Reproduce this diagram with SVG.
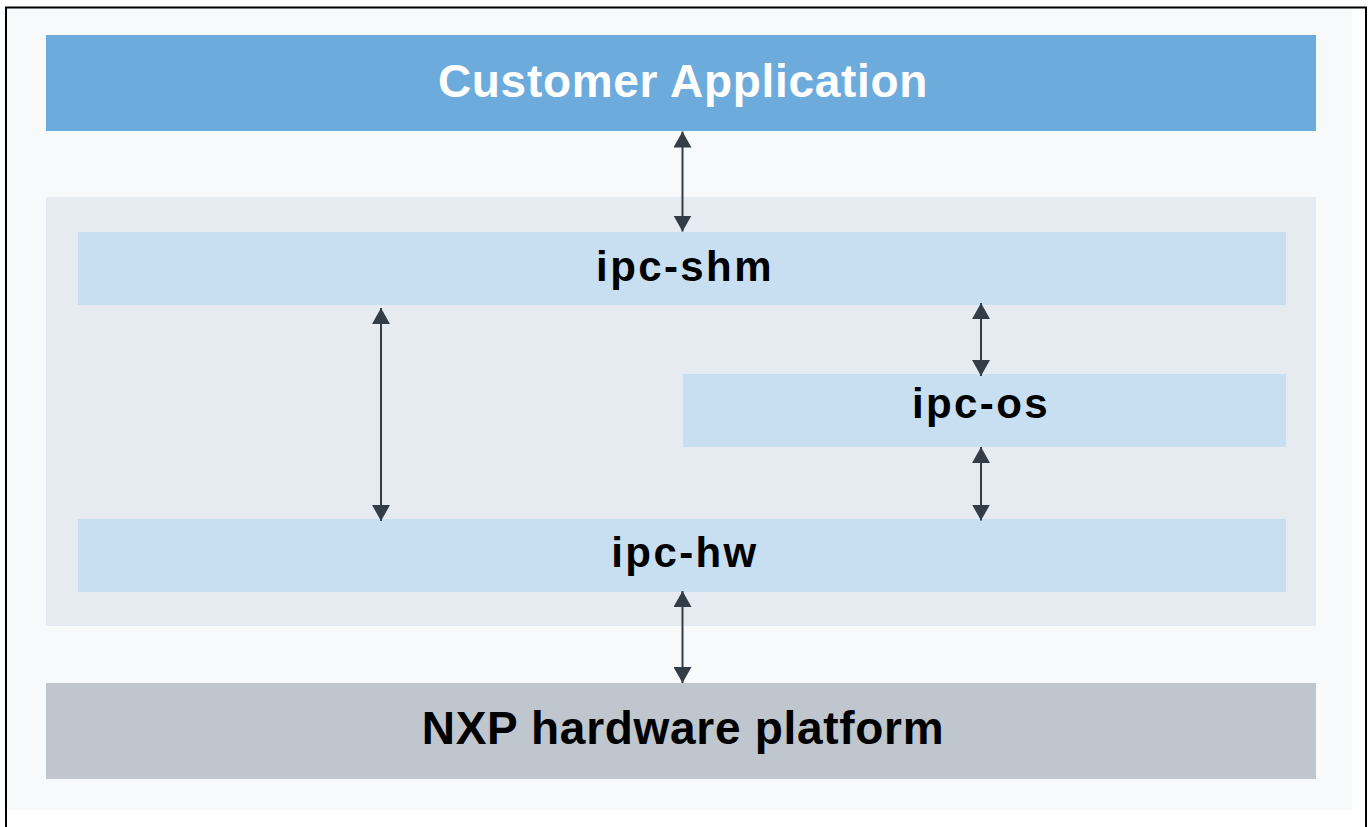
<svg xmlns="http://www.w3.org/2000/svg" width="1369" height="827" viewBox="0 0 1369 827">
  <defs>
    <style>
      .big { font-family: "Liberation Sans", Arial, sans-serif; font-weight: bold; font-size: 46px; letter-spacing: 0.7px; text-anchor: middle; }
      .mid { font-family: "Liberation Sans", Arial, sans-serif; font-weight: bold; font-size: 42px; letter-spacing: 2.4px; text-anchor: middle; fill: #000; }
      .conn { stroke: #333d48; stroke-width: 2; fill: none; marker-start: url(#ah); marker-end: url(#ah); }
    </style>
    <marker id="ah" viewBox="0 0 16 18" refX="16" refY="9" markerWidth="16" markerHeight="18" markerUnits="userSpaceOnUse" orient="auto-start-reverse">
      <path d="M0,0 L16,9 L0,18 Z" fill="#333d48"/>
    </marker>
  </defs>
  <rect x="0" y="0" width="1369" height="827" fill="#ffffff"/>
  <rect x="7" y="8" width="1345" height="802" fill="#f7f9fa"/>
  <path d="M6,827 V7.5 H1366 V827" fill="none" stroke="#000" stroke-width="2"/>

  <g id="customer-application">
    <rect x="46" y="35" width="1270" height="96" fill="#6dabdc"/>
    <text class="big" x="683" y="97" fill="#ffffff">Customer Application</text>
  </g>

  <g id="ipc-container">
    <rect x="46" y="197" width="1270" height="429" fill="#e5ebf0"/>
  </g>

  <g id="ipc-shm">
    <rect x="78" y="232" width="1208" height="73" fill="#c8dff1"/>
    <text class="mid" x="685" y="281">ipc-shm</text>
  </g>

  <g id="ipc-os">
    <rect x="683" y="374" width="603" height="73" fill="#c8dff1"/>
    <text class="mid" x="981" y="418">ipc-os</text>
  </g>

  <g id="ipc-hw">
    <rect x="78" y="519" width="1208" height="73" fill="#c8dff1"/>
    <text class="mid" x="685" y="567">ipc-hw</text>
  </g>

  <g id="nxp-hardware-platform">
    <rect x="46" y="683" width="1270" height="96" fill="#bfc6ce"/>
    <text class="big" x="683" y="744" fill="#000000">NXP hardware platform</text>
  </g>

  <g id="connectors">
    <line class="conn" x1="682.5" y1="131.5" x2="682.5" y2="231.5"/>
    <line class="conn" x1="381" y1="308" x2="381" y2="521"/>
    <line class="conn" x1="981" y1="303" x2="981" y2="376"/>
    <line class="conn" x1="981" y1="447" x2="981" y2="520.5"/>
    <line class="conn" x1="682.5" y1="591" x2="682.5" y2="683"/>
  </g>
</svg>
